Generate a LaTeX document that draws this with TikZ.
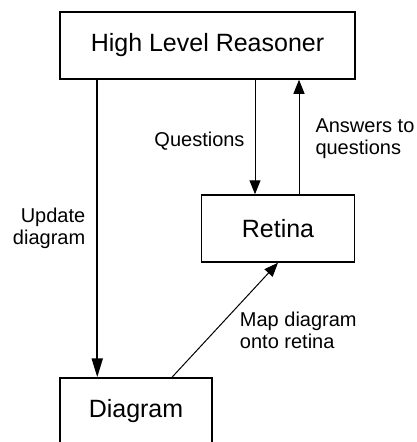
\documentclass[tikz,border=0pt]{standalone}
\usepackage{fontspec}
\setmainfont{Liberation Sans}
\usetikzlibrary{arrows.meta}

\tikzset{
  box/.style={draw,line width=1.5pt,minimum height=67pt,inner sep=0pt,
    font=\fontsize{25}{28}\selectfont},
  lbl/.style={font=\fontsize{20}{22}\selectfont,align=left,inner sep=0pt},
  arr/.style={line width=1pt,-{Triangle[length=14pt,width=11pt]}},
  bigarr/.style={line width=2pt,-{Triangle[length=19pt,width=11pt]}}
}

\begin{document}
\begin{tikzpicture}[x=1pt,y=-1pt]
		\clip (0,0) rectangle (416,442);
		\node[box,minimum width=295pt] (hlr) at (207.5,45.5) {High Level Reasoner};
		\node[box,minimum width=153pt] (ret) at (278,228.5) {Retina};
		\node[box,minimum width=152pt] (diag) at (136,411.5) {Diagram};
		\coordinate (q) at ([xshift=-23pt]ret.north);
		\coordinate (a) at ([xshift=21pt]ret.north);
		\draw[bigarr] ([xshift=38pt]hlr.south west) -- ([xshift=38pt]diag.north west)
			node[lbl,midway,anchor=east,xshift=-11pt,align=right] {Update\\diagram};
		\draw[arr] (q |- hlr.south) -- (q)
			node[lbl,midway,anchor=east,xshift=-10pt,yshift=-4pt] {Questions};
		\draw[arr] (a) -- (a |- hlr.south)
			node[lbl,midway,anchor=west,xshift=16pt,yshift=-1.5pt] {Answers to\\questions};
		\draw[arr] ([xshift=36pt]diag.north) -- (ret.south)
			node[lbl,pos=0.41,anchor=west,xshift=24pt] {Map diagram\\onto retina};
		\end{tikzpicture}
\end{document}
